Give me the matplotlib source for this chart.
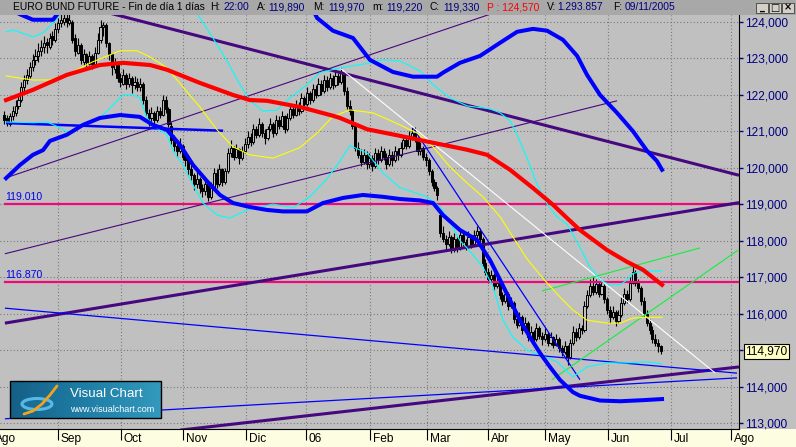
import numpy as np
import matplotlib
matplotlib.use("Agg")
import matplotlib.pyplot as plt
from matplotlib.patches import Rectangle, Ellipse
from matplotlib.colors import LinearSegmentedColormap
from matplotlib.transforms import blended_transform_factory, ScaledTranslation

plt.rcParams['font.family'] = ['Liberation Sans', 'DejaVu Sans']

W, H = 796, 447

# daily bars, x = trading day counted from 1 Aug 2005
first_bar = 4
opens = [121.45, 121.35, 121.20, 121.40, 121.50, 121.70, 121.85, 122.20, 122.40, 122.50,
         122.75, 122.95, 123.05, 123.20, 123.30, 123.45, 123.30, 123.60, 123.50, 123.80,
         123.95, 124.00, 124.10, 123.95, 124.00, 123.55, 123.15, 123.35, 122.90, 123.10,
         122.85, 123.05, 122.85, 123.15, 123.50, 123.85, 123.90, 123.40, 123.10, 122.70,
         122.85, 122.45, 122.30, 122.55, 122.30, 122.45, 122.25, 122.35, 122.20, 122.30,
         121.85, 121.50, 121.35, 121.50, 121.30, 121.55, 121.45, 121.85, 121.60, 121.15,
         120.75, 120.60, 120.45, 120.60, 120.30, 120.20, 119.95, 119.80, 119.55, 119.70,
         119.45, 119.35, 119.55, 119.20, 119.45, 119.85, 119.55, 119.95, 119.60, 119.90,
         120.40, 120.55, 120.30, 120.50, 120.25, 120.45, 120.65, 120.85, 120.70, 121.05,
         120.90, 121.20, 120.95, 120.80, 121.05, 121.20, 120.95, 121.30, 121.15, 121.40,
         121.05, 121.35, 121.60, 121.45, 121.70, 121.55, 121.90, 121.75, 122.05, 121.85,
         122.15, 122.00, 122.30, 122.10, 122.40, 122.20, 122.45, 122.25, 122.50, 122.35,
         122.60, 122.10, 121.70, 121.55, 121.15, 120.55, 120.35, 120.15, 120.35, 120.10,
         120.25, 120.05, 120.40, 120.20, 120.45, 120.30, 120.10, 120.35, 120.20, 120.45,
         120.35, 120.55, 120.75, 120.60, 120.85, 120.95, 120.80, 120.45, 120.55, 120.30,
         120.20, 119.90, 119.60, 119.45, 118.70, 118.20, 118.05, 117.90, 118.10, 117.75,
         118.05, 117.80, 118.15, 117.95, 117.85, 118.10, 117.90, 118.15, 118.25, 118.05,
         117.40, 117.15, 116.95, 117.05, 116.75, 116.85, 116.50, 116.35, 116.55, 116.20,
         116.30, 115.85, 115.70, 115.90, 115.55, 115.75, 115.35, 115.50, 115.30, 115.60,
         115.40, 115.30, 115.45, 115.20, 115.35, 115.15, 115.30, 115.05, 114.95, 115.10,
         114.80, 115.20, 115.50, 115.35, 115.60, 115.55, 116.20, 116.50, 116.75, 116.60,
         116.80, 116.55, 116.75, 116.40, 116.10, 115.90, 116.05, 115.80, 115.95, 116.30,
         116.55, 116.40, 116.85, 117.15, 116.85, 116.70, 116.35, 116.00, 115.75, 115.55,
         115.30, 115.20, 115.10]
highs = [121.55, 121.45, 121.50, 121.70, 121.85, 122.00, 122.35, 122.55, 122.70, 122.90,
         123.10, 123.25, 123.40, 123.50, 123.60, 123.55, 123.70, 123.75, 123.95, 124.10,
         124.20, 124.25, 124.20, 124.20, 124.05, 123.65, 123.55, 123.40, 123.25, 123.15,
         123.20, 123.10, 123.30, 123.70, 124.05, 124.00, 123.95, 123.45, 123.15, 123.00,
         122.90, 122.60, 122.70, 122.60, 122.60, 122.50, 122.50, 122.45, 122.45, 122.35,
         121.95, 121.60, 121.65, 121.55, 121.70, 121.65, 122.00, 121.95, 121.65, 121.25,
         120.90, 120.70, 120.80, 120.65, 120.45, 120.25, 120.10, 119.85, 119.90, 119.75,
         119.55, 119.70, 119.60, 119.60, 120.00, 119.95, 120.10, 120.00, 120.00, 120.55,
         120.75, 120.60, 120.65, 120.55, 120.60, 120.80, 121.00, 120.95, 121.20, 121.15,
         121.35, 121.25, 121.05, 121.15, 121.35, 121.25, 121.45, 121.40, 121.55, 121.45,
         121.50, 121.75, 121.70, 121.85, 121.80, 122.05, 121.95, 122.20, 122.10, 122.30,
         122.25, 122.45, 122.40, 122.55, 122.50, 122.60, 122.55, 122.65, 122.60, 122.75,
         122.65, 122.20, 121.85, 121.60, 121.20, 120.70, 120.50, 120.50, 120.45, 120.40,
         120.35, 120.55, 120.50, 120.60, 120.55, 120.40, 120.50, 120.45, 120.60, 120.55,
         120.70, 120.90, 120.85, 121.00, 121.10, 121.10, 120.85, 120.70, 120.60, 120.40,
         120.25, 119.95, 119.70, 119.50, 118.75, 118.40, 118.15, 118.25, 118.15, 118.20,
         118.10, 118.30, 118.20, 118.05, 118.25, 118.15, 118.30, 118.40, 118.35, 118.10,
         117.50, 117.25, 117.20, 117.10, 117.00, 116.90, 116.60, 116.70, 116.60, 116.45,
         116.35, 115.95, 116.05, 115.95, 115.90, 115.80, 115.65, 115.55, 115.75, 115.65,
         115.50, 115.60, 115.50, 115.50, 115.40, 115.45, 115.35, 115.15, 115.25, 115.15,
         115.30, 115.65, 115.60, 115.75, 115.70, 116.35, 116.65, 116.95, 117.00, 116.95,
         116.90, 116.90, 116.80, 116.45, 116.20, 116.20, 116.10, 116.10, 116.45, 116.70,
         116.65, 117.00, 117.30, 117.20, 116.95, 116.75, 116.45, 116.10, 115.85, 115.65,
         115.45, 115.30, 115.15]
lows = [121.20, 121.15, 121.15, 121.30, 121.40, 121.60, 121.80, 122.05, 122.30, 122.45,
        122.65, 122.80, 122.90, 123.05, 123.15, 123.15, 123.25, 123.35, 123.45, 123.70,
        123.85, 123.90, 123.85, 123.90, 123.40, 123.05, 123.10, 122.85, 122.80, 122.75,
        122.80, 122.70, 122.80, 123.10, 123.40, 123.60, 123.30, 122.95, 122.55, 122.60,
        122.35, 122.20, 122.25, 122.15, 122.20, 122.05, 122.15, 122.10, 122.10, 121.75,
        121.40, 121.15, 121.25, 121.15, 121.25, 121.35, 121.40, 121.50, 121.10, 120.65,
        120.45, 120.30, 120.40, 120.20, 120.05, 119.80, 119.65, 119.40, 119.45, 119.30,
        119.20, 119.25, 119.08, 119.15, 119.40, 119.45, 119.50, 119.50, 119.55, 119.85,
        120.30, 120.20, 120.25, 120.10, 120.20, 120.40, 120.55, 120.60, 120.65, 120.80,
        120.85, 120.85, 120.65, 120.75, 121.00, 120.85, 120.90, 121.05, 121.10, 120.95,
        121.00, 121.30, 121.35, 121.40, 121.45, 121.50, 121.60, 121.70, 121.75, 121.80,
        121.90, 121.95, 122.00, 122.05, 122.10, 122.15, 122.15, 122.20, 122.25, 122.30,
        122.00, 121.60, 121.45, 121.05, 120.45, 120.25, 120.05, 120.10, 119.95, 120.00,
        119.90, 120.00, 120.10, 120.15, 120.20, 119.95, 120.05, 120.05, 120.15, 120.20,
        120.30, 120.50, 120.50, 120.55, 120.75, 120.70, 120.35, 120.35, 120.20, 120.05,
        119.80, 119.50, 119.35, 119.10, 118.10, 117.95, 117.75, 117.85, 117.65, 117.70,
        117.70, 117.75, 117.85, 117.75, 117.80, 117.80, 117.85, 118.05, 117.95, 117.30,
        117.05, 116.85, 116.85, 116.65, 116.70, 116.40, 116.25, 116.30, 116.10, 116.15,
        115.75, 115.60, 115.65, 115.45, 115.50, 115.25, 115.30, 115.15, 115.25, 115.30,
        115.15, 115.25, 115.10, 115.15, 115.05, 115.10, 114.95, 114.85, 114.90, 114.60,
        114.75, 115.15, 115.25, 115.30, 115.45, 115.50, 116.15, 116.45, 116.50, 116.55,
        116.45, 116.50, 116.30, 116.00, 115.75, 115.85, 115.65, 115.75, 115.90, 116.25,
        116.30, 116.35, 116.80, 116.75, 116.60, 116.25, 115.90, 115.65, 115.45, 115.20,
        115.10, 114.95, 114.90]
closes = [121.30, 121.25, 121.40, 121.55, 121.70, 121.85, 122.20, 122.40, 122.55, 122.75,
          122.95, 123.05, 123.20, 123.30, 123.40, 123.35, 123.55, 123.50, 123.80, 123.95,
          124.05, 124.10, 124.00, 124.05, 123.50, 123.20, 123.35, 122.95, 123.10, 122.90,
          123.05, 122.85, 123.15, 123.50, 123.85, 123.90, 123.40, 123.10, 122.75, 122.85,
          122.45, 122.35, 122.55, 122.30, 122.45, 122.25, 122.35, 122.20, 122.30, 121.85,
          121.50, 121.35, 121.50, 121.30, 121.55, 121.45, 121.85, 121.60, 121.20, 120.75,
          120.60, 120.45, 120.60, 120.30, 120.20, 119.95, 119.80, 119.55, 119.70, 119.45,
          119.35, 119.55, 119.20, 119.45, 119.85, 119.55, 119.95, 119.60, 119.90, 120.40,
          120.55, 120.30, 120.50, 120.25, 120.45, 120.65, 120.85, 120.70, 121.05, 120.90,
          121.20, 120.95, 120.80, 121.05, 121.20, 120.95, 121.30, 121.15, 121.40, 121.05,
          121.35, 121.60, 121.45, 121.70, 121.55, 121.90, 121.75, 122.05, 121.85, 122.15,
          122.00, 122.30, 122.10, 122.40, 122.20, 122.45, 122.25, 122.50, 122.35, 122.60,
          122.10, 121.70, 121.55, 121.15, 120.55, 120.35, 120.15, 120.35, 120.10, 120.25,
          120.05, 120.40, 120.20, 120.45, 120.30, 120.10, 120.35, 120.20, 120.45, 120.35,
          120.55, 120.75, 120.60, 120.85, 120.95, 120.80, 120.45, 120.55, 120.30, 120.20,
          119.90, 119.60, 119.45, 119.25, 118.20, 118.05, 117.90, 118.10, 117.75, 118.05,
          117.80, 118.15, 117.95, 117.85, 118.10, 117.90, 118.15, 118.25, 118.05, 117.40,
          117.15, 116.95, 117.05, 116.75, 116.85, 116.50, 116.35, 116.55, 116.20, 116.30,
          115.85, 115.70, 115.90, 115.55, 115.75, 115.35, 115.50, 115.30, 115.60, 115.40,
          115.30, 115.45, 115.20, 115.35, 115.15, 115.30, 115.05, 114.95, 115.10, 114.80,
          115.20, 115.50, 115.35, 115.60, 115.55, 116.20, 116.50, 116.75, 116.60, 116.80,
          116.55, 116.75, 116.40, 116.10, 115.90, 116.05, 115.80, 115.95, 116.30, 116.55,
          116.40, 116.85, 117.15, 116.85, 116.70, 116.35, 116.00, 115.75, 115.55, 115.30,
          115.20, 115.10, 114.97]

# indicators (x = bar index, y = price)
red_x = [4.6, 14.1, 26.1, 37.8, 45.9, 55.5, 61.5, 73.1, 84.8, 90.8, 96.8, 108.5, 120.1, 122.6,
         132.2, 143.8, 155.5, 167.5, 174.6, 182.7, 190.8, 197.9, 202.8, 207.4, 217.0, 224.0,
         229.7, 236.4]
red_y = [121.85, 122.13, 122.54, 122.81, 122.87, 122.81, 122.68, 122.32, 121.99, 121.85, 121.83,
         121.66, 121.42, 121.36, 121.05, 120.87, 120.68, 120.49, 120.35, 119.94, 119.44, 118.98,
         118.62, 118.29, 117.74, 117.42, 117.20, 116.79]

yel_x = [4.6, 14.1, 20.1, 26.1, 35.3, 44.9, 50.9, 55.5, 61.5, 67.1, 73.1, 79.2, 84.8, 90.8,
         98.9, 108.5, 114.5, 120.1, 126.1, 134.3, 143.8, 149.8, 155.5, 161.5, 167.5, 173.1,
         179.2, 183.7, 188.7, 194.3, 200.4, 204.9, 209.9, 217.0, 221.6, 226.1, 231.1, 236.4]
yel_y = [122.51, 122.40, 122.40, 122.54, 122.90, 123.20, 123.20, 123.03, 122.73, 122.21, 121.66,
         121.03, 120.57, 120.35, 120.26, 120.55, 120.95, 121.40, 121.58, 121.50, 121.17, 120.95,
         120.57, 120.02, 119.58, 119.20, 118.65, 118.10, 117.50, 116.97, 116.45, 116.10, 115.82,
         115.74, 115.74, 115.88, 115.90, 115.90]

cyan_up_x = [4.6, 7.1, 14.1, 17.7, 21.2, 23.7, 30.7, 48.4, 69.6, 73.1, 77.7, 82.7, 87.3, 90.8,
             95.4, 100.4, 104.9, 110.9, 115.5, 122.6, 132.2, 137.8, 143.8, 150.9, 155.5, 161.5,
             167.5, 175.6, 179.2, 182.7, 185.2, 188.7, 192.2, 195.8, 199.3, 202.8, 207.4, 210.9,
             214.5, 218.0, 221.6, 224.0, 226.1, 229.7, 236.4]
cyan_up_y = [123.72, 123.77, 123.58, 123.69, 123.96, 124.20, 124.60, 124.90, 124.50, 124.10,
             123.55, 122.92, 122.27, 121.83, 121.55, 121.58, 121.91, 122.27, 122.60, 122.73,
             122.85, 122.95, 122.92, 122.65, 122.27, 121.91, 121.69, 121.61, 121.50, 121.28,
             120.90, 120.26, 119.55, 119.00, 118.65, 118.45, 117.82, 117.28, 116.92, 116.79,
             116.79, 116.92, 117.10, 117.17, 117.17]

cyan_lo_x = [4.6, 14.1, 19.1, 23.7, 27.2, 29.7, 37.8, 45.9, 49.5, 51.9, 54.4, 57.9, 61.5, 63.6,
             67.1, 70.7, 74.2, 79.2, 83.7, 89.8, 98.9, 106.0, 112.0, 118.0, 121.6, 126.1, 132.2,
             137.8, 143.8, 153.4, 158.0, 161.5, 165.0, 167.5, 173.1, 176.7, 180.2, 183.7, 188.7,
             193.3, 199.3, 204.9, 209.9, 217.0, 224.0, 231.1, 236.4]
cyan_lo_y = [121.25, 121.23, 121.25, 121.09, 120.95, 121.09, 121.36, 121.99, 121.99, 121.91,
             121.36, 121.09, 120.90, 120.46, 120.08, 119.52, 119.03, 118.70, 118.62, 118.84,
             119.00, 118.90, 119.20, 119.70, 120.07, 120.60, 120.40, 119.85, 119.45, 119.20,
             118.92, 118.50, 118.00, 117.80, 117.28, 116.73, 115.82, 115.36, 115.00, 114.87,
             114.68, 114.27, 114.54, 114.65, 114.65, 114.68, 114.62]

blue_up_x = [4.6, 9.5, 14.1, 21.2, 23.7, 30.0, 60.0, 100.0, 110.0, 114.5, 120.1, 127.2, 133.2,
             141.3, 148.4, 156.9, 159.0, 165.0, 172.1, 179.2, 185.2, 190.8, 195.8, 201.4, 206.4,
             209.9, 214.5, 220.5, 226.1, 231.1, 234.6, 236.4]
blue_up_y = [124.40, 124.20, 124.05, 124.05, 124.30, 124.80, 125.50, 125.50, 124.80, 124.10,
             123.75, 123.55, 122.95, 122.62, 122.49, 122.49, 122.60, 122.87, 123.06, 123.42,
             123.72, 123.80, 123.75, 123.50, 123.06, 122.54, 121.99, 121.50, 121.00, 120.46,
             120.18, 119.94]

blue_lo_x = [4.6, 9.5, 14.1, 17.7, 20.1, 26.1, 31.8, 37.8, 44.9, 51.9, 56.5, 61.5, 66.1, 70.7,
             75.6, 80.2, 84.8, 90.8, 96.8, 102.5, 110.9, 116.6, 123.7, 130.7, 137.8, 143.8,
             150.9, 155.5, 159.0, 165.0, 171.0, 175.6, 179.2, 182.7, 186.2, 189.7, 193.3, 196.8,
             200.4, 204.9, 207.4, 214.5, 221.6, 229.7, 236.4]
blue_lo_y = [119.71, 120.07, 120.35, 120.48, 120.73, 120.90, 121.17, 121.36, 121.44, 121.39,
             121.17, 121.03, 120.62, 120.07, 119.63, 119.25, 119.03, 118.92, 118.84, 118.80,
             118.80, 119.03, 119.17, 119.25, 119.20, 119.14, 119.10, 119.03, 118.70, 118.29,
             118.02, 117.47, 116.92, 116.37, 115.82, 115.36, 114.92, 114.54, 114.18, 113.85,
             113.75, 113.62, 113.60, 113.63, 113.66]

# drawn trendlines: (x0, y0, x1, y1)
purple_thick = [(37.8, 124.30, 263.6, 119.79), (4.2, 115.74, 263.6, 119.04),
                (66.1, 112.81, 263.6, 114.54)]
purple_thin = [(4.2, 119.71, 175.6, 124.20), (4.2, 117.64, 220.5, 121.83)]
blue_thin = [(4.2, 116.15, 262.9, 114.37), (4.2, 113.12, 262.9, 114.24),
             (148.4, 121.09, 207.4, 114.19)]
white_line = [(122.6, 122.73, 255.1, 114.38)]
green_lines = [(194.0, 116.62, 249.8, 117.80), (197.5, 114.19, 263.3, 117.74)]
blue_flat = [(4.6, 121.22, 81.3, 121.01)]
levels = [119.01, 116.87]
level_labels = ['119.010', '116.870']

price_ticks = [113, 114, 115, 116, 117, 118, 119, 120, 121, 122, 123, 124]
month_pos = [23.0, 45.2, 67.1, 89.4, 110.6, 133.2, 153.4, 175.0, 195.1, 217.3, 239.6, 260.8]
month_lab = ['Sep', 'Oct', 'Nov', 'Dic', '06', 'Feb', 'Mar', 'Abr', 'May', 'Jun', 'Jul', 'Ago']
last_price = 114.97

BG = '#c0c0c0'
fig = plt.figure(figsize=(W / 100, H / 100), dpi=100, facecolor=BG)
fig.patches.append(Rectangle((0, 0), 1, 18 / H, transform=fig.transFigure,
                             facecolor='#fdfde2', edgecolor='none', zorder=-5))

ax = fig.add_axes([0, 18 / H, 739 / W, (H - 15 - 18) / H])
ax.set_facecolor(BG)
ax.set_xlim(2.47, 263.6)
ax.set_ylim(112.84, 124.18)

# candles
x = np.arange(first_bar, first_bar + len(closes))
o = np.array(opens); c = np.array(closes)
ax.vlines(x, lows, highs, color='black', linewidth=0.8, zorder=2)
up = c >= o
ax.bar(x[up], (c - o)[up], bottom=o[up], width=0.75, facecolor=BG, edgecolor='black',
       linewidth=0.7, zorder=2.1)
ax.bar(x[~up], (o - c)[~up], bottom=c[~up], width=0.75, facecolor='black', edgecolor='black',
       linewidth=0.7, zorder=2.1)

def seg(lines, **kw):
    for x0, y0, x1, y1 in lines:
        ax.plot([x0, x1], [y0, y1], solid_capstyle='butt', **kw)

for lv, lb in zip(levels, level_labels):
    ax.plot([4.2, 263.6], [lv, lv], color='#f0087a', linewidth=1.6, zorder=3)
    ax.text(4.4, lv + 0.04, lb, color='#0000ee', fontsize=7.6, va='bottom', ha='left', zorder=3)

seg(purple_thin, color='#46087f', linewidth=0.8, zorder=3)
seg(purple_thick, color='#46087f', linewidth=2.2, zorder=3)
seg(blue_thin, color='#0000ff', linewidth=0.9, zorder=3)
seg(blue_flat, color='#0000ff', linewidth=1.8, zorder=3)
seg(white_line, color='white', linewidth=0.8, zorder=3)
seg(green_lines, color='#10f040', linewidth=0.8, zorder=3)

ax.plot(cyan_up_x, cyan_up_y, color='#00ffff', linewidth=0.8, zorder=3.2)
ax.plot(cyan_lo_x, cyan_lo_y, color='#00ffff', linewidth=0.8, zorder=3.2)
ax.plot(yel_x, yel_y, color='#ffff00', linewidth=0.8, zorder=3.2)
ax.plot(blue_up_x, blue_up_y, color='#0000ff', linewidth=2.9, zorder=3.4)
ax.plot(blue_lo_x, blue_lo_y, color='#0000ff', linewidth=2.9, zorder=3.4)
ax.plot(red_x, red_y, color='#ff0000', linewidth=3.0, zorder=3.5)

# axes styling
ax.set_axisbelow(True)
ax.grid(True, color='#6a6a6a', linestyle=(0, (0.8, 2.2)), linewidth=0.8)
for s in ['top', 'left']:
    ax.spines[s].set_visible(False)
ax.spines['right'].set_color('black')
ax.spines['bottom'].set_color('black')

ax.yaxis.tick_right()
ax.set_yticks(price_ticks)
ax.set_yticklabels([f'{v:.3f}'.replace('.', ',') for v in price_ticks])
ax.tick_params(axis='y', direction='out', length=3, width=1, colors='#000080',
               pad=1, labelsize=8.6)

ax.set_xticks(month_pos)
ax.set_xticklabels(month_lab)
ax.tick_params(axis='x', direction='out', length=8, width=0.8, color='black',
               labelcolor='black', pad=-5, labelsize=8.6)
shift = ScaledTranslation(2 / 72, 0, fig.dpi_scale_trans)
for lbl in ax.get_xticklabels():
    lbl.set_horizontalalignment('left')
    lbl.set_transform(lbl.get_transform() + shift)
# month label of August 2005, mostly off the left edge
ax.text(0.7, -0.0105, 'Ago', transform=blended_transform_factory(ax.transData, ax.transAxes),
        ha='left', va='top', fontsize=8.6, clip_on=False)

# last price box
ax.text(1 + 6 / 739, last_price, f'{last_price:.3f}'.replace('.', ','),
        transform=blended_transform_factory(ax.transAxes, ax.transData),
        ha='left', va='center', fontsize=8.6, color='black', zorder=10, clip_on=False,
        bbox=dict(boxstyle='square,pad=0.12', facecolor='#ffffc4', edgecolor='black',
                  linewidth=0.8))

# overlay in pixel coordinates: header bar and logo
ov = fig.add_axes([0, 0, 1, 1], zorder=5)
ov.set_xlim(0, W)
ov.set_ylim(H, 0)
ov.axis('off')
ov.patch.set_visible(False)
ov.add_patch(Rectangle((0, 0), W, 15, facecolor='#a8a8a8', edgecolor='none'))

header = [(13, 'EURO BUND FUTURE - Fin de día 1 días', '#000000'),
          (210, 'H:', '#000000'), (223, '22:00', '#000080'),
          (257, 'A:', '#000000'), (268, '119,890', '#000080'),
          (313, 'M:', '#000000'), (328, '119,970', '#000080'),
          (372, 'm:', '#000000'), (386, '119,220', '#000080'),
          (430, 'C:', '#000000'), (443, '119,330', '#000080'),
          (487, 'P : 124,570', '#ff0000'),
          (547, 'V:', '#000000'), (557, '1.293.857', '#000080'),
          (613, 'F:', '#000000'), (625, '09/11/2005', '#000080')]
for hx, txt, col in header:
    ov.text(hx, 7.5, txt, color=col, fontsize=7.4, ha='left', va='center')

for bx, glyph in zip([756, 769, 782], ['_', '□', '×']):
    ov.add_patch(Rectangle((bx, 2.5), 12, 10, facecolor='#d4d0c8', edgecolor='#404040',
                           linewidth=0.6))
    ov.text(bx + 6, 7.5, glyph, ha='center', va='center', fontsize=7, color='black',
            fontweight='bold', family=['DejaVu Sans'])

grad = np.linspace(0, 1, 200).reshape(1, -1)
cmap = LinearSegmentedColormap.from_list('logo', ['#155f86', '#1f7ea6', '#3399bd'])
ov.imshow(grad, extent=(10, 161, 418, 381), cmap=cmap, aspect='auto', zorder=1)
ov.add_patch(Rectangle((10, 381), 151, 37, facecolor='none', edgecolor='black',
                       linewidth=1.0, zorder=3))
ov.add_patch(Ellipse((37, 404), 30, 11, facecolor='#1a6f98', edgecolor='#5ab8e6',
                     linewidth=2.2, zorder=2))
ov.plot([24, 33, 42, 50, 57], [414, 411, 404, 395, 386], color='#f2a31e', linewidth=2,
        solid_capstyle='round', zorder=2.5)
ov.text(70, 394, 'Visual Chart', color='white', fontsize=9.6, ha='left', va='center', zorder=3)
ov.text(70.5, 409, 'www.visualchart.com', color='white', fontsize=6.5, ha='left',
        va='center', zorder=3)

fig.savefig('out.png', dpi=100, facecolor=BG)
